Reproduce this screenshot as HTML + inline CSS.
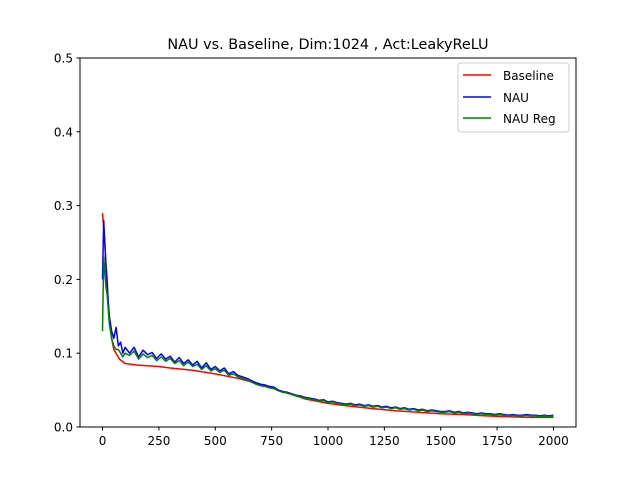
<!DOCTYPE html>
<html><head><meta charset="utf-8"><style>
body{margin:0;background:#fff;}
svg{display:block;font-family:"DejaVu Sans","Liberation Sans",sans-serif;}
</style></head><body>
<svg id="chart" width="640" height="480">
<rect width="640" height="480" fill="#fff"/>
<text x="328" y="49" text-anchor="middle" font-size="14.4">NAU vs. Baseline, Dim:1024 , Act:LeakyReLU</text>
<g id="plot"></g>
<g id="axes"></g>
<rect x="80" y="58" width="496" height="369" fill="none" stroke="#000" stroke-width="1"/>
<g>
<rect x="458" y="63" width="111" height="69" rx="3" fill="#fff" fill-opacity="0.8" stroke="#ccc"/>
<g><line x1="463" y1="75" x2="491" y2="75" stroke="red" stroke-width="1.5"/><text x="503" y="80" font-size="12">Baseline</text></g>
<g><line x1="463" y1="97" x2="491" y2="97" stroke="blue" stroke-width="1.5"/><text x="503" y="102" font-size="12">NAU</text></g>
<g><line x1="463" y1="118" x2="491" y2="118" stroke="green" stroke-width="1.5"/><text x="503" y="123" font-size="12">NAU Reg</text></g>
</g>
</svg>
<script>
const xTicks=[0,250,500,750,1000,1250,1500,1750,2000];
const yTicks=[0.0,0.1,0.2,0.3,0.4,0.5];
const baseSteps=[0,10,20,30,40,50,75,100,150,200,250,300,400,500,600,700,800,900,1000,1100,1200,1300,1400,1500,1600,1700,1800,1900,2000];
const baseVals=[0.29,0.25,0.19,0.15,0.12,0.105,0.092,0.086,0.084,0.083,0.082,0.08,0.077,0.072,0.066,0.058,0.048,0.038,0.032,0.028,0.025,0.022,0.02,0.018,0.017,0.015,0.014,0.013,0.013];
const noisySteps=[0,5,10,15,20,25,30,40,50,60,70,80,90,100,120,140,160,180,200,220,240,260,280,300,320,340,360,380,400,420,440,460,480,500,520,540,560,580,600,620,640,660,680,700,720,740,760,780,800,820,840,860,880,900,920,940,960,980,1000,1020,1040,1060,1080,1100,1120,1140,1160,1180,1200,1220,1240,1260,1280,1300,1320,1340,1360,1380,1400,1420,1440,1460,1480,1500,1520,1540,1560,1580,1600,1620,1640,1660,1680,1700,1720,1740,1760,1780,1800,1820,1840,1860,1880,1900,1920,1940,1960,1980,2000];
const nauVals=[.20,.28,.25,.22,.20,.17,.15,.13,.12,.135,.11,.115,.10,.108,
.100,.108,.095,.104,.098,.101,.093,.099,.092,.096,
.088,.094,.086,.091,.084,.089,.080,.087,.078,.082,
.076,.080,.072,.075,.070,.068,.066,.063,.060,.058,
.057,.055,.054,.050,.048,.047,.045,.043,.042,.040,
.039,.038,.036,.037,.034,.035,.033,.032,.031,.032,
.030,.031,.029,.030,.028,.029,.027,.028,.026,.027,
.025,.026,.024,.025,.023,.024,.022,.023,.022,.021,
.021,.022,.020,.021,.019,.020,.019,.018,.019,.018,
.018,.017,.018,.017,.016,.017,.016,.016,.017,.016,
.016,.015,.016,.015,.016];
const regVals=[.13,.23,.21,.19,.18,.16,.14,.12,.11,.105,.105,.10,.095,.10,
.097,.103,.092,.099,.094,.097,.090,.095,.089,.093,
.086,.090,.083,.088,.082,.085,.078,.083,.076,.079,
.074,.077,.070,.072,.068,.066,.064,.061,.058,.056,
.055,.053,.052,.049,.047,.046,.044,.042,.041,.039,
.038,.037,.035,.036,.033,.034,.032,.031,.030,.031,
.029,.030,.028,.029,.027,.028,.026,.027,.025,.026,
.024,.025,.023,.024,.022,.023,.021,.022,.021,.020,
.020,.021,.019,.020,.018,.019,.018,.017,.018,.017,
.017,.016,.017,.016,.015,.016,.015,.015,.016,.015,
.015,.014,.015,.014,.015];
const NS="http://www.w3.org/2000/svg";
const sx=v=>80+(v+100)/2200*496;
const sy=v=>427-v/0.5*369;
const plot=document.getElementById('plot'),axes=document.getElementById('axes');
function line(steps,vals,color,name){
  const p=document.createElementNS(NS,'polyline');
  p.setAttribute('points',steps.map((s,i)=>sx(s).toFixed(1)+','+sy(vals[i]).toFixed(1)).join(' '));
  p.setAttribute('fill','none');p.setAttribute('stroke',color);p.setAttribute('stroke-width','1.5');
  p.setAttribute('stroke-linejoin','round');
  
  
  plot.appendChild(p);
}
line(baseSteps,baseVals,'red','baseline-line');
line(noisySteps,nauVals,'blue','nau-line');
line(noisySteps,regVals,'green','nau-reg-line');
xTicks.forEach(t=>{
  const x=sx(t);
  const l=document.createElementNS(NS,'line');
  l.setAttribute('x1',x);l.setAttribute('x2',x);l.setAttribute('y1',427);l.setAttribute('y2',430.5);l.setAttribute('stroke','#000');
  axes.appendChild(l);
  const tx=document.createElementNS(NS,'text');
  tx.setAttribute('x',x);tx.setAttribute('y',445);tx.setAttribute('text-anchor','middle');tx.setAttribute('font-size','12');
  tx.textContent=t;
  
  
  axes.appendChild(tx);
});
yTicks.forEach(t=>{
  const y=sy(t);
  const l=document.createElementNS(NS,'line');
  l.setAttribute('x1',76.5);l.setAttribute('x2',80);l.setAttribute('y1',y);l.setAttribute('y2',y);l.setAttribute('stroke','#000');
  axes.appendChild(l);
  const tx=document.createElementNS(NS,'text');
  tx.setAttribute('x',73);tx.setAttribute('y',y+4.5);tx.setAttribute('text-anchor','end');tx.setAttribute('font-size','12');
  tx.textContent=t.toFixed(1);
  
  
  axes.appendChild(tx);
});
</script>
</body></html>
